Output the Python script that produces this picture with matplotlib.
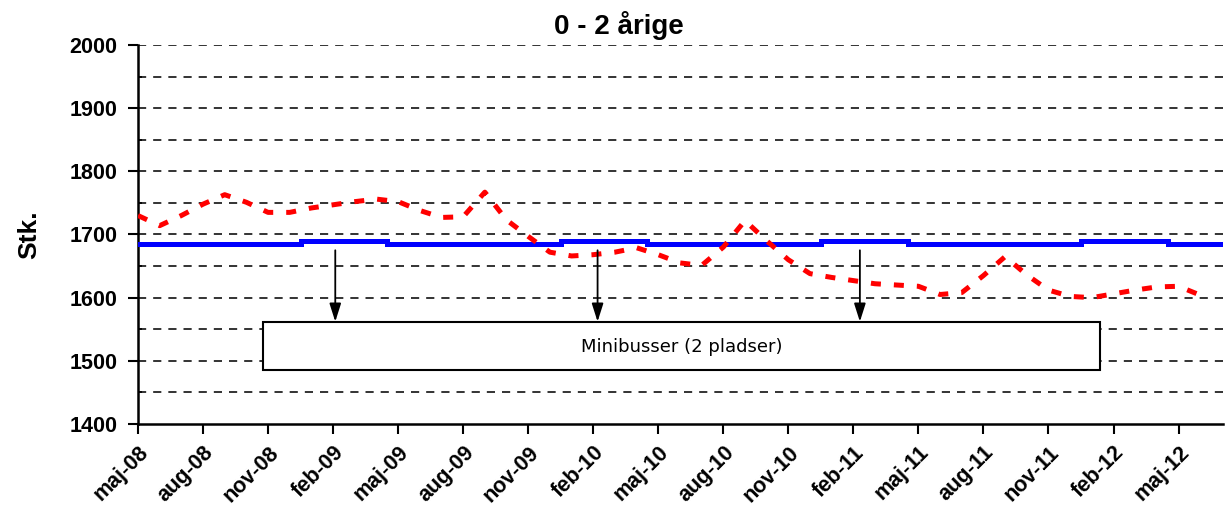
import matplotlib
matplotlib.use("Agg")
from matplotlib import pyplot as plt
import numpy as np

# Monthly counts, maj-08 .. jul-12
MONTHS = np.arange(51)

capacity = [1685, 1685, 1685, 1685, 1685, 1685, 1685, 1685, 1689, 1689,
            1689, 1689, 1685, 1685, 1685, 1685, 1685, 1685, 1685, 1685,
            1689, 1689, 1689, 1689, 1685, 1685, 1685, 1685, 1685, 1685,
            1685, 1685, 1689, 1689, 1689, 1689, 1685, 1685, 1685, 1685,
            1685, 1685, 1685, 1685, 1689, 1689, 1689, 1689, 1685, 1685,
            1685]

children = [1730, 1714, 1730, 1748, 1763, 1751, 1735, 1735, 1742, 1747,
            1752, 1756, 1752, 1738, 1727, 1728, 1767, 1723, 1697, 1672,
            1666, 1668, 1672, 1679, 1668, 1655, 1651, 1680, 1722, 1690,
            1660, 1638, 1632, 1627, 1622, 1620, 1618, 1605, 1608, 1635,
            1665, 1636, 1612, 1602, 1600, 1606, 1612, 1617, 1618, 1604]

tick_months = [0, 3, 6, 9, 12, 15, 18, 21, 24, 27, 30, 33, 36, 39, 42, 45, 48]
tick_labels = ["maj-08", "aug-08", "nov-08", "feb-09", "maj-09", "aug-09",
               "nov-09", "feb-10", "maj-10", "aug-10", "nov-10", "feb-11",
               "maj-11", "aug-11", "nov-11", "feb-12", "maj-12"]

# Minibus arrows (month) and the note box
arrow_months = [9.1, 21.2, 33.3]
note_text = "Minibusser (2 pladser)"

plt.rcParams['font.family'] = ['Liberation Sans', 'DejaVu Sans']

fig = plt.figure(figsize=(12.31, 5.17), dpi=100)
ax = fig.add_axes([0.1121, 0.1799, 0.8814, 0.7331])

ax.set_xlim(0, 50.05)
ax.set_ylim(1400, 2000)

# Dashed grid every 50
for y in np.arange(1450, 2001, 50):
    ax.axhline(y, color="#333333", lw=1.4, dashes=(4.2, 3.6), zorder=1)

ax.plot(MONTHS, capacity, color="#0000FF", lw=3.6, drawstyle="steps-mid",
        solid_joinstyle="miter", zorder=3)
ax.plot(MONTHS[:len(children)], children, color="#FF0000", lw=3.6,
        dashes=(2.0, 2.6), dash_capstyle="butt", zorder=4)

# Note box with arrows
ax.text(25.1, 1522, note_text, ha="center", va="center", fontsize=13,
        family="DejaVu Sans", zorder=5)
box = plt.Rectangle((5.77, 1486), 38.6, 76, fc="white", ec="black", lw=1.5, zorder=4)
ax.add_patch(box)
for m in arrow_months:
    ax.annotate("", xy=(m, 1562), xytext=(m, 1675),
                arrowprops=dict(arrowstyle="-|>,head_length=1.1,head_width=0.35",
                                color="black", lw=1.3, shrinkA=0, shrinkB=0),
                zorder=5)

ax.set_yticks(np.arange(1400, 2001, 100))
ax.set_yticks(np.arange(1450, 2000, 100), minor=True)
ax.tick_params(axis="y", which="major", labelsize=15.5, length=7, width=1.5,
               direction="out", pad=8)
ax.tick_params(axis="y", which="minor", length=3, width=1.2, direction="in")
for lbl in ax.get_yticklabels():
    lbl.set_fontweight("bold")

ax.set_xticks(tick_months)
ax.set_xticklabels(tick_labels, rotation=45, ha="right", va="top",
                   rotation_mode="anchor", fontsize=15.5, fontweight="bold")
ax.tick_params(axis="x", length=7, width=1.5, direction="out", pad=6)

for side in ["top", "right"]:
    ax.spines[side].set_visible(False)
for side in ["left", "bottom"]:
    ax.spines[side].set_linewidth(1.8)

ax.set_ylabel("Stk.", fontsize=19, fontweight="bold", labelpad=20)
fig.text(0.503, 0.95, "0 - 2 årige", fontsize=20, fontweight="bold",
         ha="center", va="center")

fig.savefig("out.png", dpi=100)
